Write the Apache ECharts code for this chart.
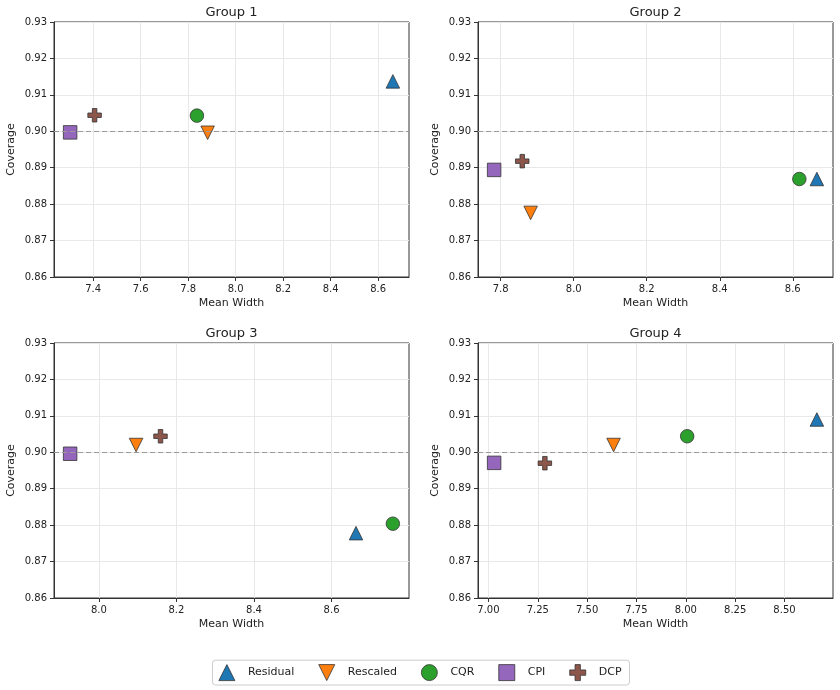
<!DOCTYPE html>
<html>
<head>
<meta charset="utf-8">
<script src="https://cdn.jsdelivr.net/npm/echarts@6/dist/echarts.min.js"></script>
<style>
  html, body { margin: 0; padding: 0; background: #fff; }
  #main { width: 840px; height: 690px; }
</style>
</head>
<body>
<div id="main"></div>
<script>
// methods, in legend order
const methods = ['Residual', 'Rescaled', 'CQR', 'CPI', 'DCP'];
const groupNames = ['Group 1', 'Group 2', 'Group 3', 'Group 4'];

// mean width / coverage per group, same order as methods
const g1Width = [8.662, 7.882, 7.837, 7.303, 7.406];
const g1Cov   = [0.9137, 0.8996, 0.9043, 0.8997, 0.9044];
const g2Width = [8.666, 7.882, 8.618, 7.782, 7.859];
const g2Cov   = [0.8869, 0.8776, 0.8869, 0.8894, 0.8918];
const g3Width = [8.663, 8.096, 8.758, 7.926, 8.159];
const g3Cov   = [0.8778, 0.9020, 0.8804, 0.8996, 0.9044];
const g4Width = [8.664, 7.634, 8.007, 7.029, 7.286];
const g4Cov   = [0.9090, 0.9020, 0.9044, 0.8971, 0.8970];

// tick labels
const g1Ticks = [7.4, 7.6, 7.8, 8.0, 8.2, 8.4, 8.6];
const g2Ticks = [7.8, 8.0, 8.2, 8.4, 8.6];
const g3Ticks = [8.0, 8.2, 8.4, 8.6, 8.8];
const g4Ticks = [7.0, 7.25, 7.5, 7.75, 8.0, 8.25, 8.5];
const tickDecimals = [1, 1, 1, 2];
const yTicks = [0.86, 0.87, 0.88, 0.89, 0.90, 0.91, 0.92, 0.93];
const target = 0.90;

const widths = [g1Width, g2Width, g3Width, g4Width];
const covs = [g1Cov, g2Cov, g3Cov, g4Cov];
const xTicks = [g1Ticks, g2Ticks, g3Ticks, g4Ticks];

const colors = ['#1f77b4', '#ff7f0e', '#2ca02c', '#9467bd', '#8c564b'];
// marker shapes as paths so the legend keeps them square
const symbols = [
    'path://M1,0L2,2L0,2Z',                       // ^
    'path://M0,0L2,0L1,2Z',                       // v
    'path://M0,1A1,1,0,1,1,2,1A1,1,0,1,1,0,1Z',   // o
    'path://M0,0H2V2H0Z',                         // s
    'path://M4,0H8V4H12V8H8V12H4V8H0V4H4Z'        // P
];

const font = 'DejaVu Sans';
const ink = '#222';

// panel boxes
const lefts = [54, 478, 54, 478];
const tops = [22, 22, 343, 343];
const W = 355, H = 255;

let grids = [], xAxes = [], yAxes = [], series = [], titles = [];

for (let g = 0; g < 4; g++) {
    grids.push({
        left: lefts[g], top: tops[g], width: W, height: H,
        show: true, borderColor: '#333', borderWidth: 1,
        containLabel: false, outerBoundsMode: 'none'
    });
    // matplotlib style 5% margin around the data
    let lo = Math.min(...widths[g]), hi = Math.max(...widths[g]);
    let pad = (hi - lo) * 0.05;
    xAxes.push({
        gridIndex: g, type: 'value', min: lo - pad, max: hi + pad,
        name: 'Mean Width', nameLocation: 'middle', nameGap: 21,
        nameTextStyle: { fontFamily: font, fontSize: 11, color: ink },
        axisLine: { show: true, onZero: false, lineStyle: { color: '#333' } },
        axisTick: { show: true, customValues: xTicks[g], length: 4, lineStyle: { color: '#333' } },
        axisLabel: {
            customValues: xTicks[g], fontFamily: font, fontSize: 10, color: ink, margin: 7,
            formatter: (v) => Number(v).toFixed(tickDecimals[g])
        },
        splitLine: { show: true, lineStyle: { color: '#e8e8e8', width: 1 } }
    });
    yAxes.push({
        gridIndex: g, type: 'value', min: yTicks[0], max: yTicks[yTicks.length - 1], interval: 0.01,
        name: 'Coverage', nameLocation: 'middle', nameGap: 37,
        nameTextStyle: { fontFamily: font, fontSize: 11, color: ink },
        axisLine: { show: true, onZero: false, lineStyle: { color: '#333' } },
        axisTick: { show: true, length: 4, lineStyle: { color: '#333' } },
        axisLabel: {
            fontFamily: font, fontSize: 10, color: ink, margin: 7,
            formatter: (v) => Number(v).toFixed(2)
        },
        splitLine: { show: true, lineStyle: { color: '#e8e8e8', width: 1 } }
    });
    titles.push({
        text: groupNames[g], left: lefts[g] + W / 2, top: tops[g] - 16, textAlign: 'center', padding: 0,
        textStyle: { fontFamily: font, fontSize: 13, fontWeight: 'normal', color: ink }
    });
    // dashed target line
    series.push({
        type: 'scatter', name: 'target', xAxisIndex: g, yAxisIndex: g, data: [], z: 1,
        markLine: {
            silent: true, symbol: 'none', label: { show: false },
            lineStyle: { color: '#9a9a9a', type: [5, 3], width: 1 },
            data: [{ yAxis: target }]
        }
    });
    for (let m = 0; m < methods.length; m++) {
        series.push({
            type: 'scatter', name: methods[m], xAxisIndex: g, yAxisIndex: g, z: 3,
            symbol: symbols[m], symbolKeepAspect: true, symbolSize: 13.5,
            itemStyle: { color: colors[m], borderColor: '#333', borderWidth: 0.8, opacity: 1 },
            data: [[widths[g][m], covs[g][m]]]
        });
    }
}

const chart = echarts.init(document.getElementById('main'), null, { renderer: 'canvas' });
chart.setOption({
    animation: false,
    backgroundColor: '#fff',
    title: titles,
    legend: {
        data: methods, bottom: 5, left: 'center',
        orient: 'horizontal', itemWidth: 32, itemHeight: 16, itemGap: 24,
        symbolKeepAspect: true,
        padding: [4, 8, 4, 6],
        borderColor: '#cccccc', borderWidth: 1, borderRadius: 3,
        itemStyle: { borderColor: '#333', borderWidth: 0.8 },
        textStyle: { fontFamily: font, fontSize: 11, color: ink }
    },
    grid: grids,
    xAxis: xAxes,
    yAxis: yAxes,
    series: series
});
</script>
</body>
</html>
